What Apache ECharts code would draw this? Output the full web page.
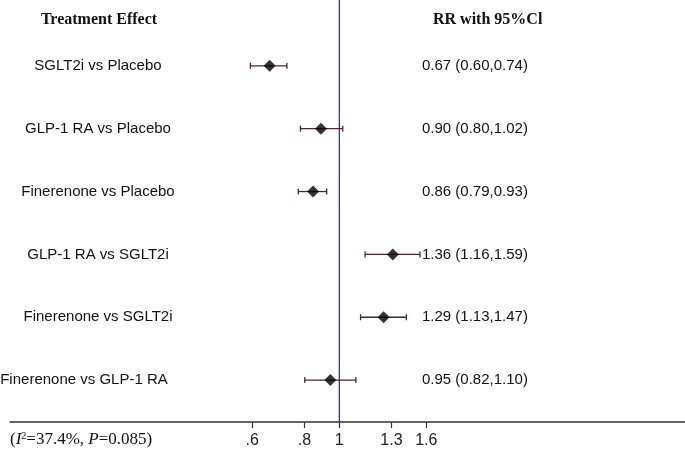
<!DOCTYPE html>
<html>
<head>
<meta charset="utf-8">
<script src="https://cdn.jsdelivr.net/npm/echarts@6/dist/echarts.min.js"></script>
<style>
html,body{margin:0;padding:0;background:#fff;}
#chart{width:685px;height:454px;}
</style>
</head>
<body>
<div id="chart"></div>
<script>
// ---- data ----
const categories = [
  'SGLT2i vs Placebo',
  'GLP-1 RA vs Placebo',
  'Finerenone vs Placebo',
  'GLP-1 RA vs SGLT2i',
  'Finerenone vs SGLT2i',
  'Finerenone vs GLP-1 RA'
];
const rr    = [0.67, 0.90, 0.86, 1.36, 1.29, 0.95];
const lower = [0.60, 0.80, 0.79, 1.16, 1.13, 0.82];
const upper = [0.74, 1.02, 0.93, 1.59, 1.47, 1.10];
const nullRR = 1;
// ticks placed on the natural-log scale, with their printed labels
const tickPositions = [-0.5, -0.2, 0, 0.3, 0.5];
const tickLabels = ['.6', '.8', '1', '1.3', '1.6'];
const headerLeft = 'Treatment Effect';
const headerRight = 'RR with 95%Cl';

// ---- layout (pixels) ----
const labelCenters = [98, 98, 98, 98, 98, 84];
const valueLeft = 422;
const yMin = -1.0476, yMax = 5.667;

// ---- build ----
const ln = Math.log;
const fmt = v => v.toFixed(2);
const ciText = rr.map((v, i) => fmt(v) + ' (' + fmt(lower[i]) + ',' + fmt(upper[i]) + ')');

const barData = categories.map((c, i) => [i, ln(lower[i]), ln(upper[i])]);
const pointData = categories.map((c, i) => [ln(rr[i]), i]);

const sans = '"Liberation Sans", Arial, sans-serif';
const serif = '"Liberation Serif", "Times New Roman", serif';
const labelFont = '15px ' + sans;
const valueFont = '15px ' + sans;
const barColor = '#4a2626';

const chart = echarts.init(document.getElementById('chart'), null, {renderer: 'canvas'});

chart.setOption({
  animation: false,
  backgroundColor: '#ffffff',
  grid: {left: 10, right: 0, top: 0, bottom: 32, containLabel: false},
  xAxis: {
    type: 'value',
    min: -1.8925,
    max: 1.9868,
    axisLine: {show: true, onZero: false, lineStyle: {color: '#333333', width: 1.5}},
    axisTick: {show: true, customValues: tickPositions, length: 6, lineStyle: {color: '#333333', width: 1.2}},
    axisLabel: {
      show: true,
      customValues: tickPositions,
      margin: 11,
      fontFamily: sans,
      fontSize: 16,
      color: '#222',
      formatter: function (v) {
        const k = tickPositions.findIndex(t => Math.abs(t - v) < 1e-9);
        return k >= 0 ? tickLabels[k] : '';
      }
    },
    splitLine: {show: false}
  },
  yAxis: {
    type: 'value',
    min: yMin,
    max: yMax,
    inverse: true,
    show: false
  },
  series: [
    {
      type: 'line',
      data: [[ln(nullRR), yMin], [ln(nullRR), yMax]],
      symbol: 'none',
      lineStyle: {color: '#0000ff', width: 1.1},
      z: 1,
      silent: true
    },
    {
      type: 'custom',
      data: barData,
      renderItem: function (params, api) {
        const i = api.value(0);
        const p1 = api.coord([api.value(1), i]);
        const p2 = api.coord([api.value(2), i]);
        const y = p1[1];
        const h = 3;
        return {
          type: 'group',
          children: [
            {type: 'line', shape: {x1: p1[0], y1: y, x2: p2[0], y2: y}, style: {stroke: barColor, lineWidth: 1.3}},
            {type: 'line', shape: {x1: p1[0], y1: y - h, x2: p1[0], y2: y + h}, style: {stroke: barColor, lineWidth: 1.3}},
            {type: 'line', shape: {x1: p2[0], y1: y - h, x2: p2[0], y2: y + h}, style: {stroke: barColor, lineWidth: 1.3}},
            {type: 'text', style: {x: labelCenters[i], y: y, text: categories[i], textAlign: 'center', textVerticalAlign: 'middle', font: labelFont, fill: '#111'}},
            {type: 'text', style: {x: valueLeft, y: y, text: ciText[i], textAlign: 'left', textVerticalAlign: 'middle', font: valueFont, fill: '#111'}}
          ]
        };
      },
      z: 2
    },
    {
      type: 'scatter',
      data: pointData,
      symbol: 'diamond',
      symbolSize: [12, 12],
      itemStyle: {color: '#000000'},
      z: 3
    }
  ],
  graphic: [
    {type: 'text', style: {x: 99, y: 20, text: headerLeft, font: 'bold 16px ' + serif, fill: '#111', textAlign: 'center', textVerticalAlign: 'middle'}},
    {type: 'text', style: {x: 433, y: 20, text: headerRight, font: 'bold 16px ' + serif, fill: '#111', textAlign: 'left', textVerticalAlign: 'middle'}},
    {
      type: 'text',
      style: {
        x: 10, y: 440,
        text: '({it|I}{sup|2}=37.4%, {it|P}=0.085)',
        font: '17px ' + serif,
        fill: '#111',
        textVerticalAlign: 'middle',
        rich: {
          it: {fontStyle: 'italic', fontFamily: serif, fontSize: 17, fill: '#111'},
          sup: {fontFamily: serif, fontSize: 10, verticalAlign: 'top', padding: [0, 0, 7, 0]}
        }
      }
    }
  ]
});
</script>
</body>
</html>
